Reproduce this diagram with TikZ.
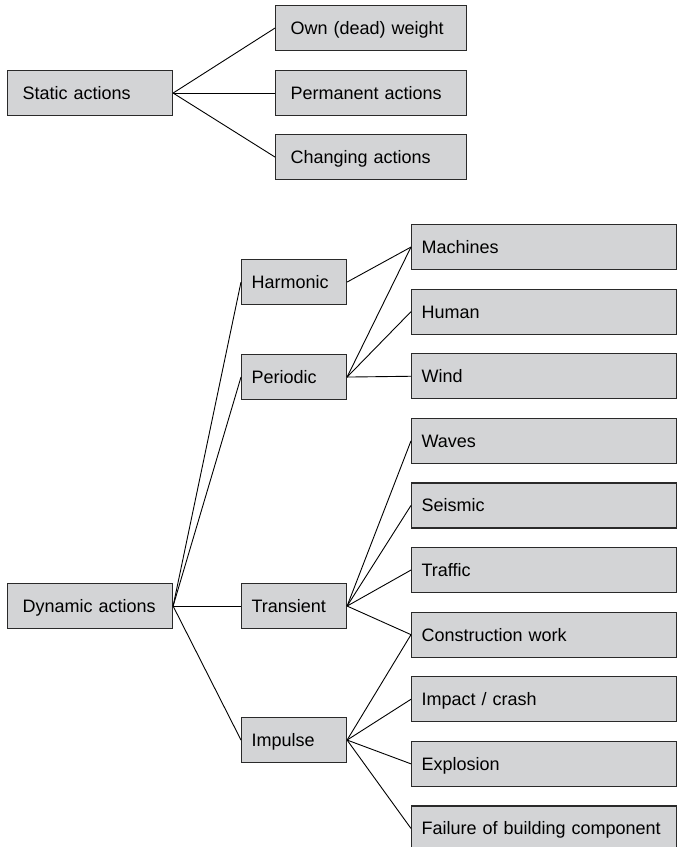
\documentclass[tikz,border=0pt]{standalone}
\usepackage{fontspec}
\setmainfont{Liberation Sans}
\definecolor{boxfill}{HTML}{D3D4D6}
\definecolor{boxline}{HTML}{2A2A2A}
\tikzset{
  abox/.style={draw=boxline, line width=1.1pt, fill=boxfill, anchor=north west,
    minimum height=45pt, inner ysep=0pt, text height=13pt, text depth=0pt,
    align=left, font=\fontsize{18}{21}\selectfont},
  wide/.style={abox, inner xsep=15pt, text width=#1},
  narrow/.style={abox, inner xsep=10pt, text width=#1},
  link/.style={draw=black, line width=0.9pt}
}
\begin{document}
\begin{tikzpicture}[x=1pt,y=-1pt]
\useasboundingbox (0,0) rectangle (683,847);
% static part
\node[wide=135pt] (static) at (7,70) {Static actions};
\node[wide=161pt] (own) at (275,5) {Own (dead) weight};
\node[wide=161pt] (perm) at (275,70) {Permanent actions};
\node[wide=161pt] (chang) at (275,134) {Changing actions};
% dynamic part
\node[wide=135pt] (dyn) at (7,583) {Dynamic actions};
\node[narrow=85pt] (harm) at (241,259) {Harmonic};
\node[narrow=85pt] (peri) at (241,354) {Periodic};
\node[narrow=85pt] (trans) at (241,583) {Transient};
\node[narrow=85pt] (imp) at (241,717) {Impulse};
\node[narrow=245pt] (mach) at (411,224) {Machines};
\node[narrow=245pt] (hum) at (411,288.6) {Human};
\node[narrow=245pt] (wind) at (411,353.2) {Wind};
\node[narrow=245pt] (wave) at (411,417.8) {Waves};
\node[narrow=245pt] (seis) at (411,482.4) {Seismic};
\node[narrow=245pt] (traf) at (411,547) {Traffic};
\node[narrow=245pt] (cons) at (411,611.6) {Construction work};
\node[narrow=245pt] (impc) at (411,676.2) {Impact / crash};
\node[narrow=245pt] (expl) at (411,740.8) {Explosion};
\node[narrow=245pt] (fail) at (411,805.4) {Failure of building component};
% connectors
\foreach \t in {own,perm,chang} \draw[link] (static.east) -- (\t.west);
\foreach \t in {harm,peri,trans,imp} \draw[link] (dyn.east) -- (\t.west);
\draw[link] (harm.east) -- (mach.west);
\foreach \t in {mach,hum,wind} \draw[link] (peri.east) -- (\t.west);
\foreach \t in {wave,seis,traf,cons} \draw[link] (trans.east) -- (\t.west);
\foreach \t in {cons,impc,expl,fail} \draw[link] (imp.east) -- (\t.west);
\end{tikzpicture}
\end{document}
